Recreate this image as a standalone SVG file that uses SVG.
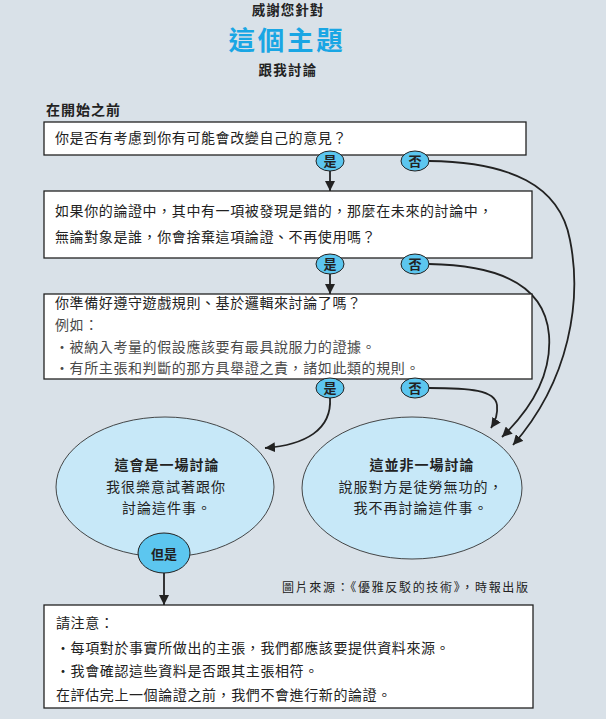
<svg xmlns="http://www.w3.org/2000/svg" width="606" height="719" viewBox="0 0 606 719">
<style>
text{font-family:"Noto Sans CJK TC","Noto Sans CJK SC",sans-serif;fill:#222}
.t{font-size:14px;letter-spacing:0.6px}
.g{fill:#4a4a4a}
.b{font-weight:bold}
.box{fill:#fff;stroke:#222;stroke-width:1.3}
.yn{fill:#5cc6ef;stroke:#222;stroke-width:1}
.yl{font-size:13px;font-weight:bold;text-anchor:middle}
.big{fill:#c7e8f8;stroke:#333;stroke-width:0.9}
.et{font-size:14px;text-anchor:middle;letter-spacing:1px}
.c{fill:none;stroke:#222;stroke-width:1.8}
</style>
<defs>
<marker id="ah" viewBox="0 0 10 10" refX="10" refY="5" markerWidth="10" markerHeight="10" markerUnits="userSpaceOnUse" orient="auto">
<path d="M0,0 L10,5 L0,10 Z" fill="#222"/>
</marker>
</defs>
<rect width="606" height="719" fill="#d9e1e8"/>
<g id="title">
<text x="288" y="15" font-size="13.5" class="b" text-anchor="middle" letter-spacing="1">威謝您針對</text>
<text x="287" y="50" font-size="26.5" class="b" text-anchor="middle" letter-spacing="2.8" style="fill:#19a6e4">這個主題</text>
<text x="288" y="74.5" font-size="13.5" class="b" text-anchor="middle" letter-spacing="1.2">跟我討論</text>
<text x="46" y="115" font-size="14" class="b" letter-spacing="1">在開始之前</text>
</g>
<g id="connectors">
<path class="c" d="M330,171 L330,191" marker-end="url(#ah)"/>
<path class="c" d="M330,274 L330,294" marker-end="url(#ah)"/>
<path class="c" d="M429,161 C510,162 560,185 570,240 C582,300 570,380 513,445" marker-end="url(#ah)"/>
<path class="c" d="M429,264 C500,265 545,285 549,335 C552,375 530,410 502,437" marker-end="url(#ah)"/>
<path class="c" d="M429,388 C470,388 495,390 497,405 C498,415 495,422 491,428" marker-end="url(#ah)"/>
<path class="c" d="M330,398 C332,430 305,445 265,448" marker-end="url(#ah)"/>
<path class="c" d="M164,573 L164,605" marker-end="url(#ah)"/>
</g>
<g id="q1">
<rect class="box" x="44" y="122" width="482" height="33"/>
<text class="t" x="55" y="143">你是否有考慮到你有可能會改變自己的意見？</text>
</g>
<g id="q1-yes"><ellipse class="yn" cx="330" cy="161" rx="14" ry="10"/><text class="yl" x="330" y="166">是</text></g>
<g id="q1-no"><ellipse class="yn" cx="415" cy="161" rx="14" ry="10"/><text class="yl" x="415" y="166">否</text></g>
<g id="q2">
<rect class="box" x="44" y="191" width="488" height="67"/>
<text class="t" x="55" y="216">如果你的論證中，其中有一項被發現是錯的，那麼在未來的討論中，</text>
<text class="t" x="55" y="242">無論對象是誰，你會捨棄這項論證、不再使用嗎？</text>
</g>
<g id="q2-yes"><ellipse class="yn" cx="330" cy="264" rx="14" ry="10"/><text class="yl" x="330" y="269">是</text></g>
<g id="q2-no"><ellipse class="yn" cx="415" cy="264" rx="14" ry="10"/><text class="yl" x="415" y="269">否</text></g>
<g id="q3">
<rect class="box" x="44" y="294" width="488" height="85"/>
<text class="t" x="55" y="308">你準備好遵守遊戲規則、基於邏輯來討論了嗎？</text>
<text class="t g" x="55" y="330">例如：</text>
<text class="t g" x="55" y="352">・被納入考量的假設應該要有最具說服力的證據。</text>
<text class="t g" x="55" y="373">・有所主張和判斷的那方具舉證之責，諸如此類的規則。</text>
</g>
<g id="q3-yes"><ellipse class="yn" cx="330" cy="388" rx="14" ry="10"/><text class="yl" x="330" y="393">是</text></g>
<g id="q3-no"><ellipse class="yn" cx="415" cy="388" rx="14" ry="10"/><text class="yl" x="415" y="393">否</text></g>
<g id="discussion">
<ellipse class="big" cx="165" cy="487" rx="109" ry="70"/>
<text class="et b" x="167" y="470">這會是一場討論</text>
<text class="et" x="166" y="492">我很樂意試著跟你</text>
<text class="et" x="167" y="513">討論這件事。</text>
</g>
<g id="no-discussion">
<ellipse class="big" cx="412" cy="488" rx="110" ry="71"/>
<text class="et b" x="422" y="470">這並非一場討論</text>
<text class="et" x="421" y="492">說服對方是徒勞無功的，</text>
<text class="et" x="421" y="513">我不再討論這件事。</text>
</g>
<g id="but"><ellipse class="yn" cx="164" cy="553" rx="26" ry="20"/><text class="yl" x="164" y="559" font-size="14">但是</text></g>
<text x="282" y="592" font-size="12" textLength="246" lengthAdjust="spacing">圖片來源：《優雅反駁的技術》，時報出版</text>
<g id="note">
<rect class="box" x="44" y="605" width="489" height="103"/>
<text class="t" x="56" y="628">請注意：</text>
<text class="t" x="56" y="653">・每項對於事實所做出的主張，我們都應該要提供資料來源。</text>
<text class="t" x="56" y="676">・我會確認這些資料是否跟其主張相符。</text>
<text class="t" x="56" y="700">在評估完上一個論證之前，我們不會進行新的論證。</text>
</g>
</svg>
